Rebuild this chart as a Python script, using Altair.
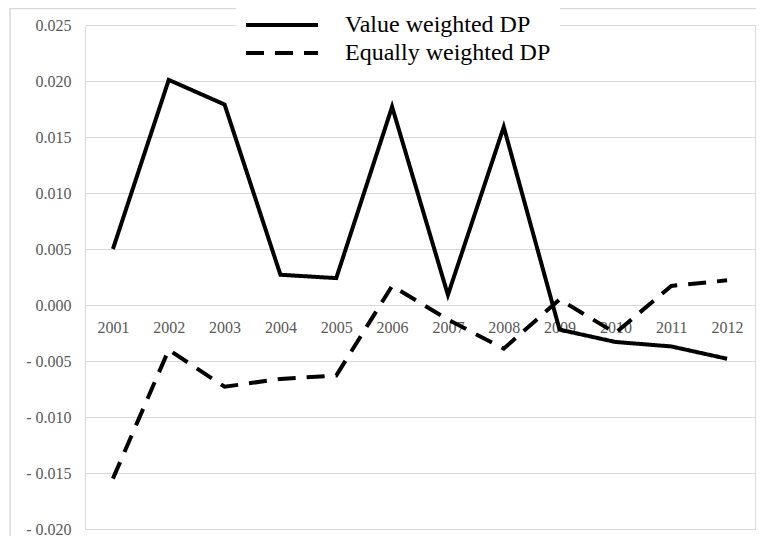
import altair as alt
import pandas as pd

years = ["2001", "2002", "2003", "2004", "2005", "2006",
         "2007", "2008", "2009", "2010", "2011", "2012"]
value_weighted = [0.0050, 0.0201, 0.0179, 0.0027, 0.0024, 0.0177,
                  0.0009, 0.0159, -0.0022, -0.0033, -0.0037, -0.0048]
equally_weighted = [-0.0155, -0.0040, -0.0073, -0.0066, -0.0063, 0.0017,
                    -0.0013, -0.0039, 0.0005, -0.0025, 0.0017, 0.0022]
series_names = ["Value weighted DP", "Equally weighted DP"]
y_ticks = [-0.020, -0.015, -0.010, -0.005, 0.000, 0.005, 0.010, 0.015, 0.020, 0.025]

rows = []
for name, vals in zip(series_names, [value_weighted, equally_weighted]):
    for yr, v in zip(years, vals):
        rows.append({"year": yr, "value": v, "series": name})
df = pd.DataFrame(rows)

W, H = 670, 504
y_min, y_max = -0.020, 0.025
zero_from_bottom = H * (0 - y_min) / (y_max - y_min)

FONT = "Liberation Serif"

border = alt.Chart(pd.DataFrame({"k": [0]})).mark_rect(
    filled=False, stroke="#d9d9d9", strokeWidth=1.5
).encode(
    x=alt.value(-75), x2=alt.value(W + 60),
    y=alt.value(-16.5), y2=alt.value(H + 60)
)

lines = alt.Chart(df).mark_line(strokeWidth=4, color="black").encode(
    x=alt.X("year:O", sort=years,
            scale=alt.Scale(type="point", padding=0.5),
            axis=alt.Axis(title=None, labelAngle=0, domain=False, ticks=False,
                          tickSize=0, labelPadding=14, offset=-zero_from_bottom,
                          labelFont=FONT, labelFontSize=16, labelColor="#595959",
                          grid=False)),
    y=alt.Y("value:Q",
            scale=alt.Scale(domain=[y_min, y_max], nice=False, zero=False),
            axis=alt.Axis(title=None, values=y_ticks, domain=False, ticks=False,
                          tickSize=0, labelPadding=14, grid=True,
                          gridColor="#d9d9d9", gridWidth=1.2,
                          labelFont=FONT, labelFontSize=16, labelColor="#595959",
                          labelExpr="datum.value < -1e-9 ? '- ' + format(-datum.value, '.3f') : format(abs(datum.value), '.3f')")),
    strokeDash=alt.StrokeDash(
        "series:N",
        scale=alt.Scale(domain=series_names, range=[[1, 0], [18, 11]]),
        legend=alt.Legend(
            title=None, orient="none", legendX=151, legendY=-22,
            symbolType="stroke", symbolSize=5184, symbolStrokeWidth=4,
            symbolStrokeColor="black", clipHeight=28, rowPadding=0,
            symbolOffset=0, labelOffset=25, labelFont=FONT, labelFontSize=24,
            labelColor="black", labelLimit=500, fillColor="white", padding=8,
            strokeColor="white"
        )
    ),
    detail="series:N",
    order=alt.Order("year:O")
)

chart = alt.layer(border, lines).properties(
    width=W, height=H,
    autosize=alt.AutoSizeParams(type="none"),
    padding={"left": 77, "top": 17, "right": 1, "bottom": 7},
    background="white"
).configure_view(stroke=None).configure(font=FONT)

chart.save("out.html", embed_options={"renderer": "svg", "actions": False})
